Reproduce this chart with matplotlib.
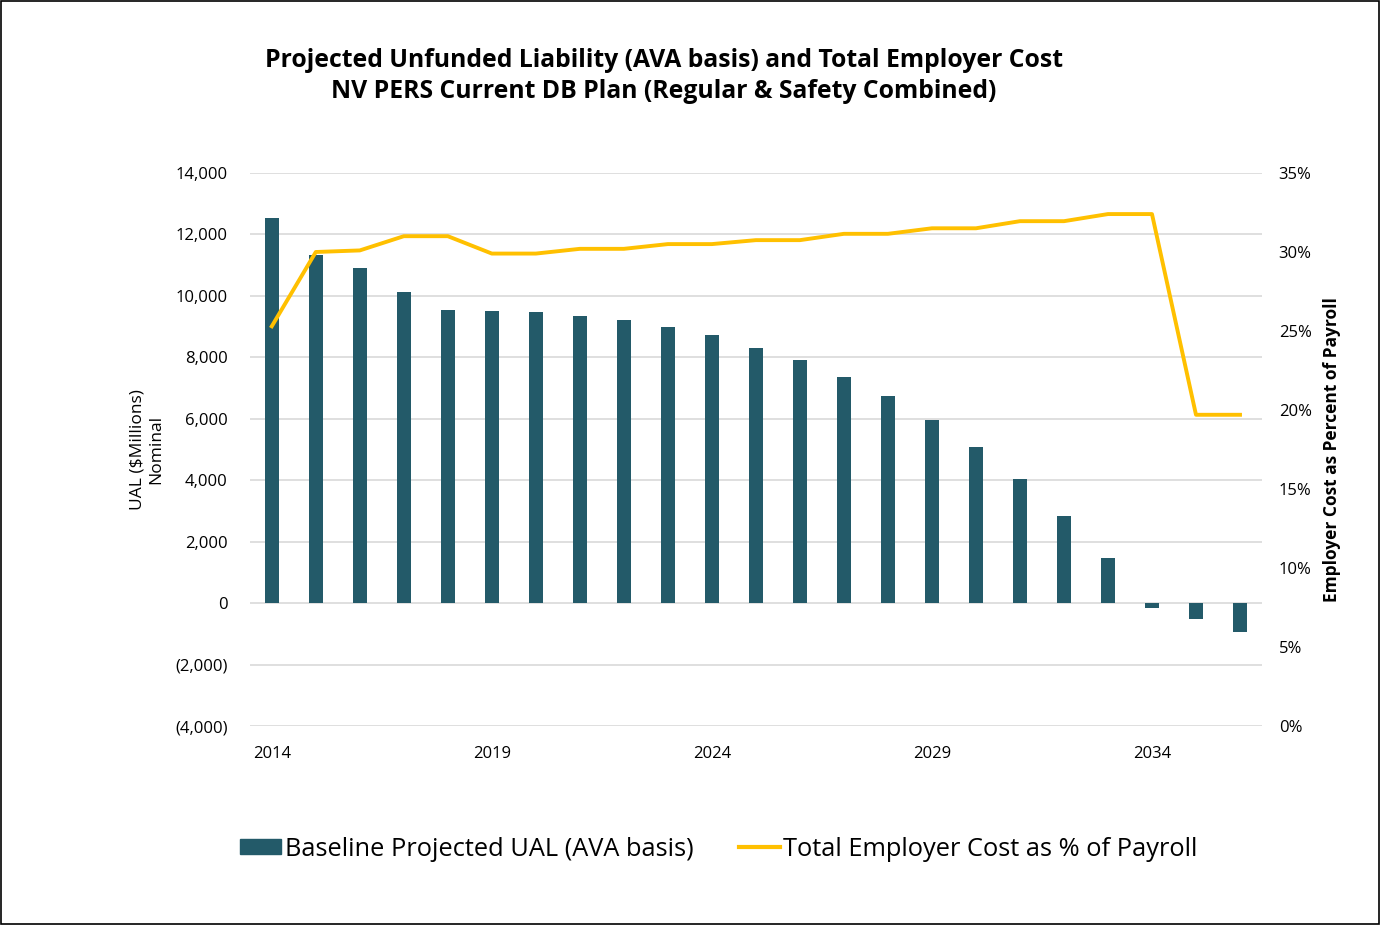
import numpy as np
import matplotlib
matplotlib.use("Agg")
import matplotlib.pyplot as plt
from matplotlib.ticker import FuncFormatter
from matplotlib.patches import Patch
from matplotlib.lines import Line2D

years = list(range(2014, 2037))
ual = [12520, 11330, 10900, 10120, 9540, 9500, 9470, 9340, 9210, 8980, 8720, 8320,
       7910, 7360, 6740, 5960, 5090, 4050, 2850, 1460, -140, -500, -950]
cost_pct = [25.3, 30.0, 30.1, 31.0, 31.0, 29.9, 29.9, 30.2, 30.2, 30.5, 30.5, 30.75,
            30.75, 31.15, 31.15, 31.5, 31.5, 31.95, 31.95, 32.4, 32.4, 19.7, 19.7]
year_ticks = [2014, 2019, 2024, 2029, 2034]

plt.rcParams['font.family'] = ['Open Sans', 'DejaVu Sans']
bar_col = '#235a69'
line_col = '#ffc000'

fig = plt.figure(figsize=(13.8, 9.25), dpi=100)
ax = fig.add_axes([0.181, 0.215, 0.9145 - 0.181, 0.813 - 0.215])
x = np.arange(len(years))
ax.bar(x, ual, width=0.32, color=bar_col, zorder=3)
ax.set_xlim(-0.5, len(years) - 0.5)
ax.set_ylim(-4000, 14000)
ax.set_yticks(np.arange(-4000, 14001, 2000))
ax.yaxis.set_major_formatter(FuncFormatter(lambda v, p: f"({abs(v):,.0f})" if v < 0 else f"{v:,.0f}"))
ax.set_xticks([years.index(y) for y in year_ticks])
ax.set_xticklabels([str(y) for y in year_ticks])
ax.grid(axis='y', color='#d9d9d9', lw=1.2, zorder=0)
ax.tick_params(length=0, labelsize=12, pad=16)
ax.tick_params(axis='x', pad=14)
for s in ax.spines.values():
    s.set_visible(False)
ax.set_ylabel("UAL ($Millions)\nNominal", fontsize=12.5, labelpad=8)

ax2 = ax.twinx()
ax2.plot(x, cost_pct, color=line_col, lw=2.8, zorder=4)
ax2.set_ylim(0, 35)
ax2.set_yticks(np.arange(0, 36, 5))
ax2.yaxis.set_major_formatter(FuncFormatter(lambda v, p: f"{v:.0f}%"))
ax2.tick_params(length=0, labelsize=12, pad=12)
for s in ax2.spines.values():
    s.set_visible(False)
ax2.set_ylabel("Employer Cost as Percent of Payroll", fontsize=12.5, fontweight='bold', labelpad=8)

fig.text(0.481, 0.918, "Projected Unfunded Liability (AVA basis) and Total Employer Cost\n"
         "NV PERS Current DB Plan (Regular & Safety Combined)",
         ha='center', va='center', fontsize=17.8, fontweight='bold', linespacing=1.35)

handles = [Patch(color=bar_col, label="Baseline Projected UAL (AVA basis)"),
           Line2D([0], [0], color=line_col, lw=3, label="Total Employer Cost as % of Payroll")]
fig.legend(handles=handles, loc='center', bbox_to_anchor=(0.521, 0.082), ncol=2, frameon=False,
           fontsize=18.3, handlelength=1.6, handleheight=0.55, columnspacing=1.8, handletextpad=0.15)

fig.add_artist(plt.Rectangle((0.0008, 0.001), 0.9984, 0.998, transform=fig.transFigure,
                             fill=False, edgecolor='black', lw=1.2))
fig.savefig("out.png", dpi=100)
